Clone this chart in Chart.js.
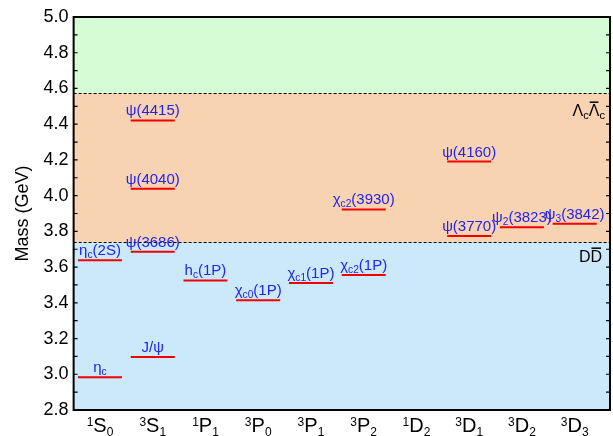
<!DOCTYPE html>
<html>
<head>
<meta charset="utf-8">
<script src="https://cdn.jsdelivr.net/npm/chart.js@4.4.1/dist/chart.umd.min.js"></script>
<style>
html, body { margin: 0; padding: 0; background: #fff; }
#wrap { width: 613px; height: 436px; }
</style>
</head>
<body>
<div id="wrap"><canvas id="spectrum"></canvas></div>
<script>
// spectroscopic labels for the columns (^{} superscript, _{} subscript)
const waves = ['^{1}S_{0}', '^{3}S_{1}', '^{1}P_{1}', '^{3}P_{0}', '^{3}P_{1}', '^{3}P_{2}', '^{1}D_{2}', '^{3}D_{1}', '^{3}D_{2}', '^{3}D_{3}'];

// charmonium states: name, column index, mass in GeV
const stateNames = ['η_{c}', 'η_{c}(2S)', 'J/ψ', 'ψ(3686)', 'ψ(4040)', 'ψ(4415)', 'h_{c}(1P)', 'χ_{c0}(1P)', 'χ_{c1}(1P)', 'χ_{c2}(1P)', 'χ_{c2}(3930)', 'ψ(3770)', 'ψ(4160)', 'ψ_{2}(3823)', 'ψ_{3}(3842)'];
const stateWave = [0, 0, 1, 1, 1, 1, 2, 3, 4, 5, 5, 7, 7, 8, 9];
const stateMass = [2.984, 3.638, 3.097, 3.686, 4.039, 4.421, 3.525, 3.415, 3.511, 3.556, 3.923, 3.774, 4.191, 3.823, 3.842];

const yTicks = [2.8, 3.0, 3.2, 3.4, 3.6, 3.8, 4.0, 4.2, 4.4, 4.6, 4.8, 5.0];

// open-flavour thresholds (~{} overline)
const thresholdNames = ['D~{D}', 'Λ_{c}~{Λ}_{c}'];
const thresholdMass = [3.739, 4.573];
const bandColors = ['#cce9fb', '#f8d3b1', '#d6fcd6'];

const FONT = '"Liberation Sans", Arial, sans-serif';

function parseRich(s) {
  const out = [];
  const re = /([_^~])\{([^}]*)\}|([^_^~]+)/g;
  let m;
  while ((m = re.exec(s))) {
    if (m[3]) out.push({ t: m[3], k: 'n' });
    else out.push({ t: m[2], k: { '_': 'sub', '^': 'sup', '~': 'bar' }[m[1]] });
  }
  return out;
}

function drawRich(ctx, s, x, y, size, align, smallRatio) {
  const parts = parseRich(s);
  const small = size * smallRatio;
  const fontFor = k => ((k === 'sub' || k === 'sup') ? small : size) + 'px ' + FONT;
  let w = 0;
  parts.forEach(p => { ctx.font = fontFor(p.k); p.w = ctx.measureText(p.t).width; w += p.w; });
  let cx = align === 'right' ? x - w : (align === 'center' ? x - w / 2 : x);
  ctx.textAlign = 'left';
  ctx.textBaseline = 'alphabetic';
  parts.forEach(p => {
    ctx.font = fontFor(p.k);
    let dy = 0;
    if (p.k === 'sub') dy = size * 0.2;
    if (p.k === 'sup') dy = -size * 0.3;
    ctx.fillText(p.t, cx, y + dy);
    if (p.k === 'bar') {
      ctx.save();
      ctx.strokeStyle = ctx.fillStyle;
      ctx.lineWidth = 1.5;
      ctx.beginPath();
      ctx.moveTo(cx + 1, y - size * 0.88);
      ctx.lineTo(cx + p.w - 1, y - size * 0.88);
      ctx.stroke();
      ctx.restore();
    }
    cx += p.w;
  });
}

const decor = {
  id: 'decor',
  beforeDatasetsDraw(chart) {
    const { ctx, chartArea: a, scales: { y } } = chart;
    const edges = [a.bottom].concat(thresholdMass.map(v => y.getPixelForValue(v)), [a.top]);
    ctx.save();
    for (let i = 0; i < bandColors.length; i++) {
      ctx.fillStyle = bandColors[i];
      ctx.fillRect(a.left, edges[i + 1], a.right - a.left, edges[i] - edges[i + 1]);
    }
    ctx.strokeStyle = '#000';
    ctx.lineWidth = 1;
    ctx.setLineDash([3, 2]);
    thresholdMass.forEach(v => {
      const py = Math.round(y.getPixelForValue(v)) + 0.5;
      ctx.beginPath();
      ctx.moveTo(a.left, py);
      ctx.lineTo(a.right, py);
      ctx.stroke();
    });
    ctx.restore();
  },
  afterDatasetsDraw(chart) {
    const { ctx, chartArea: a, scales: { x, y } } = chart;
    ctx.save();
    // state labels
    ctx.fillStyle = '#2323ee';
    stateNames.forEach((n, i) => {
      drawRich(ctx, n, x.getPixelForValue(stateWave[i]), y.getPixelForValue(stateMass[i]) - 5, 15, 'center', 0.68);
    });
    // threshold labels
    ctx.fillStyle = '#000';
    drawRich(ctx, thresholdNames[0], a.right - 8, y.getPixelForValue(thresholdMass[0]) + 20, 16, 'right', 0.7);
    drawRich(ctx, thresholdNames[1], a.right - 5, y.getPixelForValue(thresholdMass[1]) + 23, 16, 'right', 0.7);
    // column labels
    waves.forEach((w, i) => {
      drawRich(ctx, w, x.getPixelForValue(i), a.bottom + 21.5, 20, 'center', 0.6);
    });
    // frame and inward ticks
    ctx.strokeStyle = '#000';
    ctx.lineWidth = 2;
    ctx.strokeRect(a.left, a.top, a.right - a.left, a.bottom - a.top);
    ctx.lineWidth = 1.2;
    for (let i = 0; i < yTicks.length; i++) {
      const vals = [yTicks[i]];
      if (i < yTicks.length - 1) vals.push((yTicks[i] + yTicks[i + 1]) / 2);
      vals.forEach(v => {
        const py = y.getPixelForValue(v);
        ctx.beginPath();
        ctx.moveTo(a.left, py); ctx.lineTo(a.left + 4, py);
        ctx.moveTo(a.right, py); ctx.lineTo(a.right - 4, py);
        ctx.stroke();
      });
    }
    ctx.restore();
  }
};

new Chart(document.getElementById('spectrum'), {
  type: 'scatter',
  data: {
    datasets: [{
      data: stateMass.map((m, i) => ({ x: stateWave[i], y: m })),
      pointStyle: 'line',
      pointRadius: 22,
      pointHoverRadius: 22,
      pointBorderColor: '#f00000',
      pointBorderWidth: 2,
      pointBackgroundColor: '#f00000'
    }]
  },
  options: {
    responsive: true,
    maintainAspectRatio: false,
    animation: false,
    events: [],
    layout: { autoPadding: false, padding: { left: 0, right: 3, top: 17, bottom: 26 } },
    plugins: { legend: { display: false }, tooltip: { enabled: false } },
    scales: {
      x: {
        type: 'linear',
        min: -0.5,
        max: 9.67,
        display: false
      },
      y: {
        min: 2.8,
        max: 5.0,
        afterBuildTicks: s => { s.ticks = yTicks.map(v => ({ value: v })); },
        grid: { display: false, drawTicks: false },
        border: { display: false },
        ticks: {
          padding: 5,
          color: '#000',
          font: { size: 18, family: FONT },
          callback: v => Number(v).toFixed(1)
        },
        title: {
          display: true,
          text: 'Mass (GeV)',
          color: '#000',
          font: { size: 18, family: FONT },
          padding: { top: 12, bottom: 5 }
        }
      }
    }
  },
  plugins: [decor]
});
</script>
</body>
</html>
